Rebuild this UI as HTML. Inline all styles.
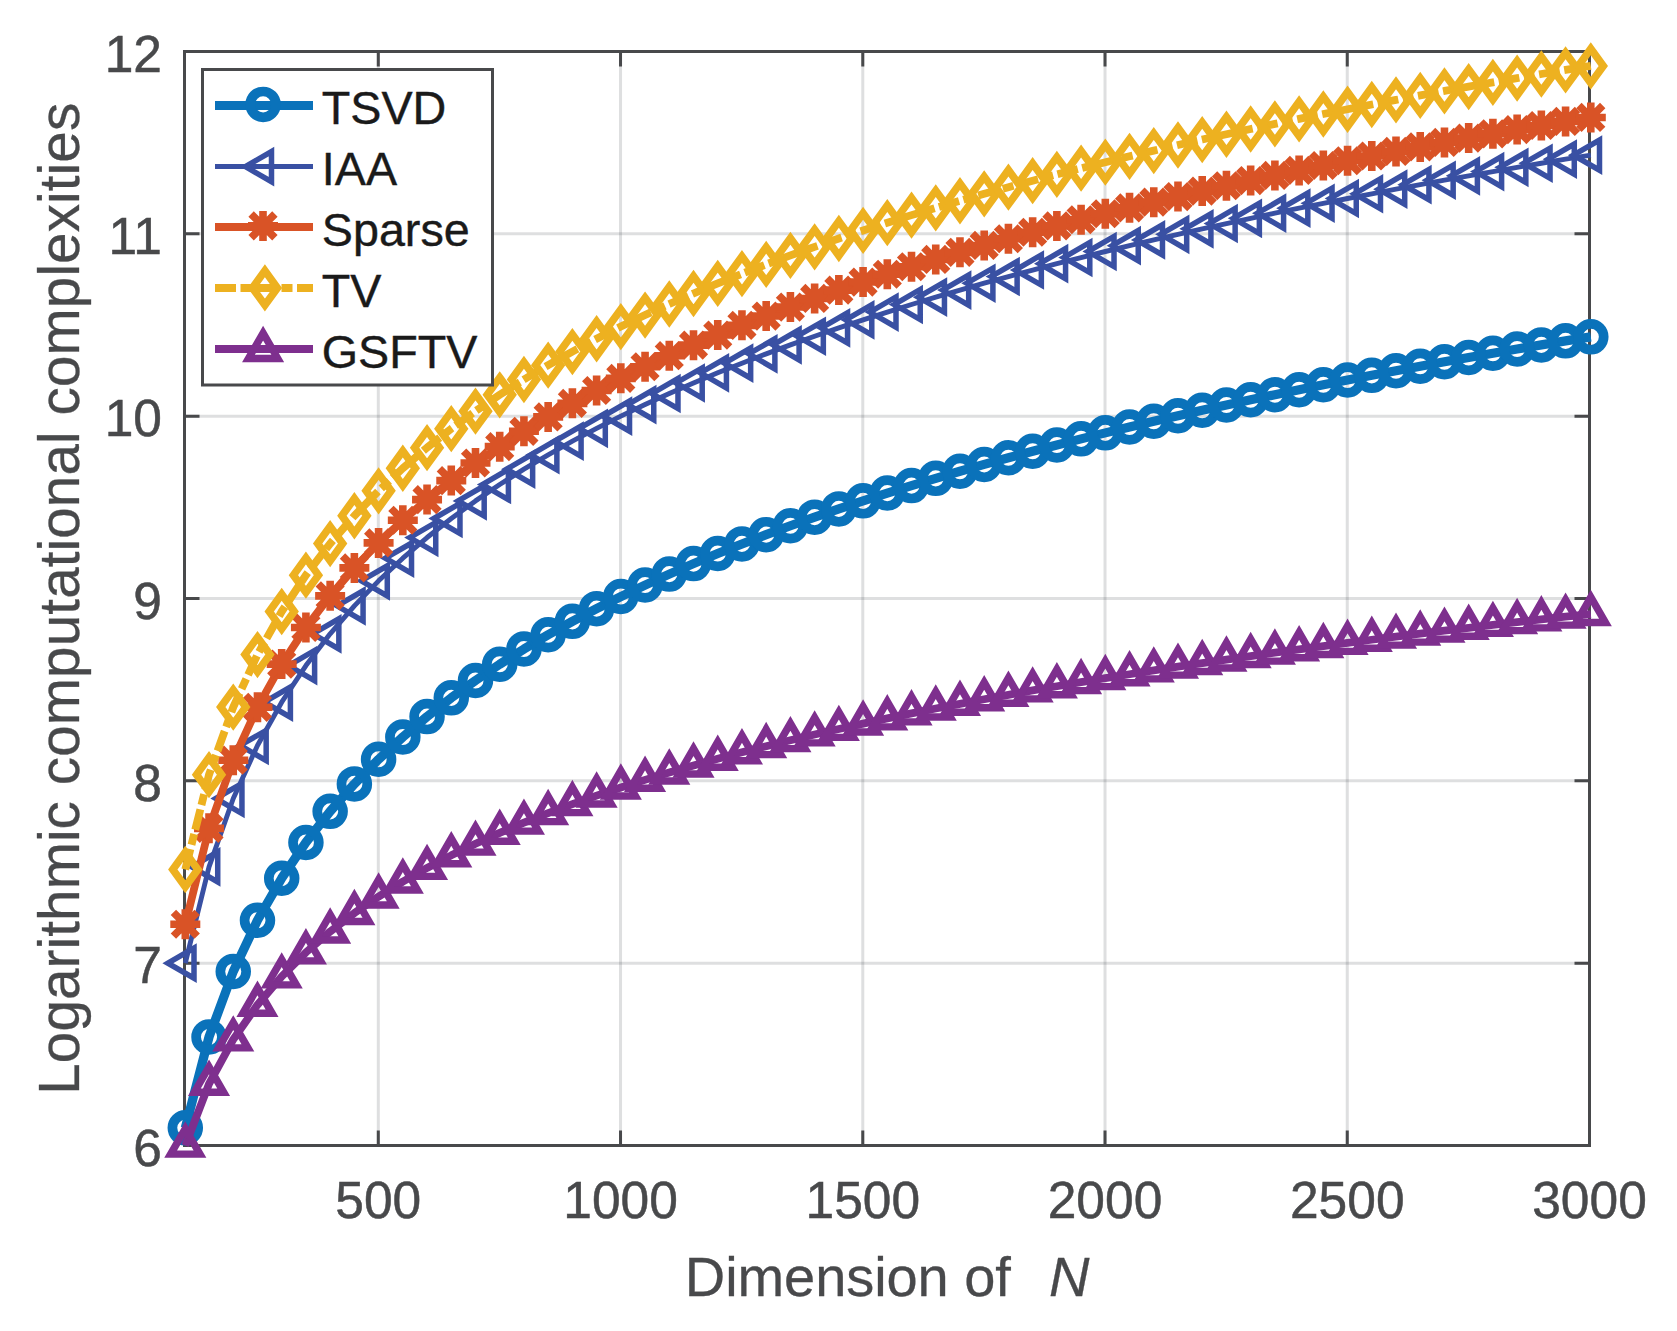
<!DOCTYPE html>
<html><head><meta charset="utf-8"><title>Logarithmic computational complexities</title>
<style>html,body{margin:0;padding:0;background:#fff}svg{display:block}</style></head>
<body>
<svg width="1677" height="1331" viewBox="0 0 1677 1331">
<defs>
<circle id="m-tsvd" cx="0" cy="0" r="12.9" fill="none" stroke="#0a72ba" stroke-width="9.7"/>
<polygon id="m-iaa" points="-17.4,0 8.7,-15.07 8.7,15.07" fill="none" stroke="#3950a3" stroke-width="5.5" stroke-linejoin="miter" stroke-miterlimit="10"/>
<path id="m-sparse" d="M-15 0H15M0 -15V15M-11.9 -11.9L11.9 11.9M-11.9 11.9L11.9 -11.9" fill="none" stroke="#d95326" stroke-width="7.6" stroke-linecap="butt"/>
<polygon id="m-tv" points="0,-17.2 12.5,0 0,17.2 -12.5,0" fill="none" stroke="#edb120" stroke-width="7.6" stroke-linejoin="miter" stroke-miterlimit="10"/>
<polygon id="m-gsftv" points="0,-16.9 14.64,8.45 -14.64,8.45" fill="none" stroke="#7e2f8e" stroke-width="7.4" stroke-linejoin="miter" stroke-miterlimit="10"/>
</defs>
<rect x="0" y="0" width="1677" height="1331" fill="#fff"/>
<path d="M378.29 51.5V1145.5M620.53 51.5V1145.5M862.78 51.5V1145.5M1105.02 51.5V1145.5M1347.26 51.5V1145.5" fill="none" stroke="#1f2226" stroke-opacity="0.145" stroke-width="3"/>
<path d="M184.5 963.17H1589.5M184.5 780.83H1589.5M184.5 598.5H1589.5M184.5 416.17H1589.5M184.5 233.83H1589.5" fill="none" stroke="#1f2226" stroke-opacity="0.145" stroke-width="3"/>
<path d="M378.29 1145.5V1130.5M378.29 51.5V66.5M620.53 1145.5V1130.5M620.53 51.5V66.5M862.78 1145.5V1130.5M862.78 51.5V66.5M1105.02 1145.5V1130.5M1105.02 51.5V66.5M1347.26 1145.5V1130.5M1347.26 51.5V66.5M1589.5 1145.5V1130.5M1589.5 51.5V66.5M184.5 1145.5H199.5M1589.5 1145.5H1574.5M184.5 963.17H199.5M1589.5 963.17H1574.5M184.5 780.83H199.5M1589.5 780.83H1574.5M184.5 598.5H199.5M1589.5 598.5H1574.5M184.5 416.17H199.5M1589.5 416.17H1574.5M184.5 233.83H199.5M1589.5 233.83H1574.5M184.5 51.5H199.5M1589.5 51.5H1574.5" fill="none" stroke="#48494b" stroke-width="3"/>
<rect x="184.5" y="51.5" width="1405" height="1094" fill="none" stroke="#48494b" stroke-width="3"/>
<path d="M185.3 1127.83L209.02 1036.97L233.25 971.51L257.47 920.28L281.7 878.18L305.92 842.43L330.14 811.37L354.37 783.91L378.59 759.3L402.82 737L427.04 716.62L451.27 697.85L475.49 680.45L499.71 664.24L523.94 649.07L548.16 634.81L572.39 621.36L596.61 608.63L620.83 596.54L645.06 585.05L669.28 574.08L693.51 563.6L717.73 553.56L741.96 543.92L766.18 534.66L790.4 525.75L814.63 517.17L838.85 508.88L863.08 500.87L887.3 493.12L911.52 485.62L935.75 478.35L959.97 471.29L984.2 464.43L1008.42 457.77L1032.64 451.29L1056.87 444.99L1081.09 438.84L1105.32 432.85L1129.54 427.01L1153.77 421.31L1177.99 415.74L1202.21 410.3L1226.44 404.98L1250.66 399.78L1274.89 394.69L1299.11 389.7L1323.33 384.82L1347.56 380.04L1371.78 375.35L1396.01 370.75L1420.23 366.24L1444.46 361.81L1468.68 357.47L1492.9 353.2L1517.13 349.01L1541.35 344.89L1565.58 340.84L1590.8 336.86" fill="none" stroke="#0a72ba" stroke-width="9.2" stroke-linejoin="round"/>
<g><use href="#m-tsvd" x="185.3" y="1127.83"/><use href="#m-tsvd" x="209.02" y="1036.97"/><use href="#m-tsvd" x="233.25" y="971.51"/><use href="#m-tsvd" x="257.47" y="920.28"/><use href="#m-tsvd" x="281.7" y="878.18"/><use href="#m-tsvd" x="305.92" y="842.43"/><use href="#m-tsvd" x="330.14" y="811.37"/><use href="#m-tsvd" x="354.37" y="783.91"/><use href="#m-tsvd" x="378.59" y="759.3"/><use href="#m-tsvd" x="402.82" y="737"/><use href="#m-tsvd" x="427.04" y="716.62"/><use href="#m-tsvd" x="451.27" y="697.85"/><use href="#m-tsvd" x="475.49" y="680.45"/><use href="#m-tsvd" x="499.71" y="664.24"/><use href="#m-tsvd" x="523.94" y="649.07"/><use href="#m-tsvd" x="548.16" y="634.81"/><use href="#m-tsvd" x="572.39" y="621.36"/><use href="#m-tsvd" x="596.61" y="608.63"/><use href="#m-tsvd" x="620.83" y="596.54"/><use href="#m-tsvd" x="645.06" y="585.05"/><use href="#m-tsvd" x="669.28" y="574.08"/><use href="#m-tsvd" x="693.51" y="563.6"/><use href="#m-tsvd" x="717.73" y="553.56"/><use href="#m-tsvd" x="741.96" y="543.92"/><use href="#m-tsvd" x="766.18" y="534.66"/><use href="#m-tsvd" x="790.4" y="525.75"/><use href="#m-tsvd" x="814.63" y="517.17"/><use href="#m-tsvd" x="838.85" y="508.88"/><use href="#m-tsvd" x="863.08" y="500.87"/><use href="#m-tsvd" x="887.3" y="493.12"/><use href="#m-tsvd" x="911.52" y="485.62"/><use href="#m-tsvd" x="935.75" y="478.35"/><use href="#m-tsvd" x="959.97" y="471.29"/><use href="#m-tsvd" x="984.2" y="464.43"/><use href="#m-tsvd" x="1008.42" y="457.77"/><use href="#m-tsvd" x="1032.64" y="451.29"/><use href="#m-tsvd" x="1056.87" y="444.99"/><use href="#m-tsvd" x="1081.09" y="438.84"/><use href="#m-tsvd" x="1105.32" y="432.85"/><use href="#m-tsvd" x="1129.54" y="427.01"/><use href="#m-tsvd" x="1153.77" y="421.31"/><use href="#m-tsvd" x="1177.99" y="415.74"/><use href="#m-tsvd" x="1202.21" y="410.3"/><use href="#m-tsvd" x="1226.44" y="404.98"/><use href="#m-tsvd" x="1250.66" y="399.78"/><use href="#m-tsvd" x="1274.89" y="394.69"/><use href="#m-tsvd" x="1299.11" y="389.7"/><use href="#m-tsvd" x="1323.33" y="384.82"/><use href="#m-tsvd" x="1347.56" y="380.04"/><use href="#m-tsvd" x="1371.78" y="375.35"/><use href="#m-tsvd" x="1396.01" y="370.75"/><use href="#m-tsvd" x="1420.23" y="366.24"/><use href="#m-tsvd" x="1444.46" y="361.81"/><use href="#m-tsvd" x="1468.68" y="357.47"/><use href="#m-tsvd" x="1492.9" y="353.2"/><use href="#m-tsvd" x="1517.13" y="349.01"/><use href="#m-tsvd" x="1541.35" y="344.89"/><use href="#m-tsvd" x="1565.58" y="340.84"/><use href="#m-tsvd" x="1590.8" y="336.86"/></g>
<path d="M185.3 963.17L209.02 866.84L233.25 798.5L257.47 745.49L281.7 702.18L305.92 665.56L330.14 633.84L354.37 605.86L378.59 580.83L402.82 558.19L427.04 537.52L451.27 518.5L475.49 500.9L499.71 484.51L523.94 469.18L548.16 454.77L572.39 441.2L596.61 428.35L620.83 416.17L645.06 404.58L669.28 393.52L693.51 382.96L717.73 372.85L741.96 363.16L766.18 353.84L790.4 344.87L814.63 336.23L838.85 327.9L863.08 319.84L887.3 312.06L911.52 304.51L935.75 297.2L959.97 290.11L984.2 283.22L1008.42 276.53L1032.64 270.02L1056.87 263.69L1081.09 257.52L1105.32 251.5L1129.54 245.64L1153.77 239.91L1177.99 234.32L1202.21 228.86L1226.44 223.52L1250.66 218.3L1274.89 213.19L1299.11 208.19L1323.33 203.29L1347.56 198.49L1371.78 193.79L1396.01 189.18L1420.23 184.65L1444.46 180.21L1468.68 175.85L1492.9 171.57L1517.13 167.37L1541.35 163.23L1565.58 159.17L1590.8 155.18" fill="none" stroke="#3950a3" stroke-width="4.9" stroke-linejoin="round"/>
<g><use href="#m-iaa" x="185.3" y="963.17"/><use href="#m-iaa" x="209.02" y="866.84"/><use href="#m-iaa" x="233.25" y="798.5"/><use href="#m-iaa" x="257.47" y="745.49"/><use href="#m-iaa" x="281.7" y="702.18"/><use href="#m-iaa" x="305.92" y="665.56"/><use href="#m-iaa" x="330.14" y="633.84"/><use href="#m-iaa" x="354.37" y="605.86"/><use href="#m-iaa" x="378.59" y="580.83"/><use href="#m-iaa" x="402.82" y="558.19"/><use href="#m-iaa" x="427.04" y="537.52"/><use href="#m-iaa" x="451.27" y="518.5"/><use href="#m-iaa" x="475.49" y="500.9"/><use href="#m-iaa" x="499.71" y="484.51"/><use href="#m-iaa" x="523.94" y="469.18"/><use href="#m-iaa" x="548.16" y="454.77"/><use href="#m-iaa" x="572.39" y="441.2"/><use href="#m-iaa" x="596.61" y="428.35"/><use href="#m-iaa" x="620.83" y="416.17"/><use href="#m-iaa" x="645.06" y="404.58"/><use href="#m-iaa" x="669.28" y="393.52"/><use href="#m-iaa" x="693.51" y="382.96"/><use href="#m-iaa" x="717.73" y="372.85"/><use href="#m-iaa" x="741.96" y="363.16"/><use href="#m-iaa" x="766.18" y="353.84"/><use href="#m-iaa" x="790.4" y="344.87"/><use href="#m-iaa" x="814.63" y="336.23"/><use href="#m-iaa" x="838.85" y="327.9"/><use href="#m-iaa" x="863.08" y="319.84"/><use href="#m-iaa" x="887.3" y="312.06"/><use href="#m-iaa" x="911.52" y="304.51"/><use href="#m-iaa" x="935.75" y="297.2"/><use href="#m-iaa" x="959.97" y="290.11"/><use href="#m-iaa" x="984.2" y="283.22"/><use href="#m-iaa" x="1008.42" y="276.53"/><use href="#m-iaa" x="1032.64" y="270.02"/><use href="#m-iaa" x="1056.87" y="263.69"/><use href="#m-iaa" x="1081.09" y="257.52"/><use href="#m-iaa" x="1105.32" y="251.5"/><use href="#m-iaa" x="1129.54" y="245.64"/><use href="#m-iaa" x="1153.77" y="239.91"/><use href="#m-iaa" x="1177.99" y="234.32"/><use href="#m-iaa" x="1202.21" y="228.86"/><use href="#m-iaa" x="1226.44" y="223.52"/><use href="#m-iaa" x="1250.66" y="218.3"/><use href="#m-iaa" x="1274.89" y="213.19"/><use href="#m-iaa" x="1299.11" y="208.19"/><use href="#m-iaa" x="1323.33" y="203.29"/><use href="#m-iaa" x="1347.56" y="198.49"/><use href="#m-iaa" x="1371.78" y="193.79"/><use href="#m-iaa" x="1396.01" y="189.18"/><use href="#m-iaa" x="1420.23" y="184.65"/><use href="#m-iaa" x="1444.46" y="180.21"/><use href="#m-iaa" x="1468.68" y="175.85"/><use href="#m-iaa" x="1492.9" y="171.57"/><use href="#m-iaa" x="1517.13" y="167.37"/><use href="#m-iaa" x="1541.35" y="163.23"/><use href="#m-iaa" x="1565.58" y="159.17"/><use href="#m-iaa" x="1590.8" y="155.18"/></g>
<path d="M185.3 924.28L209.02 828.35L233.25 760.2L257.47 707.31L281.7 664.08L305.92 627.51L330.14 595.83L354.37 567.88L378.59 542.88L402.82 520.26L427.04 499.61L451.27 480.61L475.49 463.02L499.71 446.64L523.94 431.32L548.16 416.92L572.39 403.35L596.61 390.52L620.83 378.34L645.06 366.75L669.28 355.71L693.51 345.15L717.73 335.04L741.96 325.35L766.18 316.04L790.4 307.07L814.63 298.44L838.85 290.11L863.08 282.05L887.3 274.27L911.52 266.73L935.75 259.42L959.97 252.33L984.2 245.45L1008.42 238.76L1032.64 232.25L1056.87 225.91L1081.09 219.75L1105.32 213.73L1129.54 207.87L1153.77 202.14L1177.99 196.56L1202.21 191.1L1226.44 185.76L1250.66 180.54L1274.89 175.43L1299.11 170.43L1323.33 165.53L1347.56 160.73L1371.78 156.03L1396.01 151.42L1420.23 146.9L1444.46 142.46L1468.68 138.1L1492.9 133.82L1517.13 129.61L1541.35 125.48L1565.58 121.42L1590.8 117.43" fill="none" stroke="#d95326" stroke-width="7.8" stroke-linejoin="round"/>
<g><use href="#m-sparse" x="185.3" y="924.28"/><use href="#m-sparse" x="209.02" y="828.35"/><use href="#m-sparse" x="233.25" y="760.2"/><use href="#m-sparse" x="257.47" y="707.31"/><use href="#m-sparse" x="281.7" y="664.08"/><use href="#m-sparse" x="305.92" y="627.51"/><use href="#m-sparse" x="330.14" y="595.83"/><use href="#m-sparse" x="354.37" y="567.88"/><use href="#m-sparse" x="378.59" y="542.88"/><use href="#m-sparse" x="402.82" y="520.26"/><use href="#m-sparse" x="427.04" y="499.61"/><use href="#m-sparse" x="451.27" y="480.61"/><use href="#m-sparse" x="475.49" y="463.02"/><use href="#m-sparse" x="499.71" y="446.64"/><use href="#m-sparse" x="523.94" y="431.32"/><use href="#m-sparse" x="548.16" y="416.92"/><use href="#m-sparse" x="572.39" y="403.35"/><use href="#m-sparse" x="596.61" y="390.52"/><use href="#m-sparse" x="620.83" y="378.34"/><use href="#m-sparse" x="645.06" y="366.75"/><use href="#m-sparse" x="669.28" y="355.71"/><use href="#m-sparse" x="693.51" y="345.15"/><use href="#m-sparse" x="717.73" y="335.04"/><use href="#m-sparse" x="741.96" y="325.35"/><use href="#m-sparse" x="766.18" y="316.04"/><use href="#m-sparse" x="790.4" y="307.07"/><use href="#m-sparse" x="814.63" y="298.44"/><use href="#m-sparse" x="838.85" y="290.11"/><use href="#m-sparse" x="863.08" y="282.05"/><use href="#m-sparse" x="887.3" y="274.27"/><use href="#m-sparse" x="911.52" y="266.73"/><use href="#m-sparse" x="935.75" y="259.42"/><use href="#m-sparse" x="959.97" y="252.33"/><use href="#m-sparse" x="984.2" y="245.45"/><use href="#m-sparse" x="1008.42" y="238.76"/><use href="#m-sparse" x="1032.64" y="232.25"/><use href="#m-sparse" x="1056.87" y="225.91"/><use href="#m-sparse" x="1081.09" y="219.75"/><use href="#m-sparse" x="1105.32" y="213.73"/><use href="#m-sparse" x="1129.54" y="207.87"/><use href="#m-sparse" x="1153.77" y="202.14"/><use href="#m-sparse" x="1177.99" y="196.56"/><use href="#m-sparse" x="1202.21" y="191.1"/><use href="#m-sparse" x="1226.44" y="185.76"/><use href="#m-sparse" x="1250.66" y="180.54"/><use href="#m-sparse" x="1274.89" y="175.43"/><use href="#m-sparse" x="1299.11" y="170.43"/><use href="#m-sparse" x="1323.33" y="165.53"/><use href="#m-sparse" x="1347.56" y="160.73"/><use href="#m-sparse" x="1371.78" y="156.03"/><use href="#m-sparse" x="1396.01" y="151.42"/><use href="#m-sparse" x="1420.23" y="146.9"/><use href="#m-sparse" x="1444.46" y="142.46"/><use href="#m-sparse" x="1468.68" y="138.1"/><use href="#m-sparse" x="1492.9" y="133.82"/><use href="#m-sparse" x="1517.13" y="129.61"/><use href="#m-sparse" x="1541.35" y="125.48"/><use href="#m-sparse" x="1565.58" y="121.42"/><use href="#m-sparse" x="1590.8" y="117.43"/></g>
<path d="M185.3 869.47L209.02 774.66L233.25 707.08L257.47 654.54L281.7 611.53L305.92 575.14L330.14 543.58L354.37 515.73L378.59 490.81L402.82 468.25L427.04 447.65L451.27 428.7L475.49 411.14L499.71 394.8L523.94 379.51L548.16 365.14L572.39 351.59L596.61 338.77L620.83 326.61L645.06 315.05L669.28 304.02L693.51 293.47L717.73 283.38L741.96 273.7L766.18 264.4L790.4 255.44L814.63 246.82L838.85 238.49L863.08 230.45L887.3 222.67L911.52 215.14L935.75 207.84L959.97 200.75L984.2 193.87L1008.42 187.19L1032.64 180.69L1056.87 174.36L1081.09 168.2L1105.32 162.19L1129.54 156.33L1153.77 150.61L1177.99 145.02L1202.21 139.57L1226.44 134.23L1250.66 129.02L1274.89 123.91L1299.11 118.91L1323.33 114.02L1347.56 109.22L1371.78 104.52L1396.01 99.91L1420.23 95.39L1444.46 90.96L1468.68 86.6L1492.9 82.32L1517.13 78.12L1541.35 73.99L1565.58 69.93L1590.8 65.94" fill="none" stroke="#edb120" stroke-width="7.8" stroke-linejoin="round" stroke-dasharray="21 4.5 11 4.5"/>
<g><use href="#m-tv" x="185.3" y="869.47"/><use href="#m-tv" x="209.02" y="774.66"/><use href="#m-tv" x="233.25" y="707.08"/><use href="#m-tv" x="257.47" y="654.54"/><use href="#m-tv" x="281.7" y="611.53"/><use href="#m-tv" x="305.92" y="575.14"/><use href="#m-tv" x="330.14" y="543.58"/><use href="#m-tv" x="354.37" y="515.73"/><use href="#m-tv" x="378.59" y="490.81"/><use href="#m-tv" x="402.82" y="468.25"/><use href="#m-tv" x="427.04" y="447.65"/><use href="#m-tv" x="451.27" y="428.7"/><use href="#m-tv" x="475.49" y="411.14"/><use href="#m-tv" x="499.71" y="394.8"/><use href="#m-tv" x="523.94" y="379.51"/><use href="#m-tv" x="548.16" y="365.14"/><use href="#m-tv" x="572.39" y="351.59"/><use href="#m-tv" x="596.61" y="338.77"/><use href="#m-tv" x="620.83" y="326.61"/><use href="#m-tv" x="645.06" y="315.05"/><use href="#m-tv" x="669.28" y="304.02"/><use href="#m-tv" x="693.51" y="293.47"/><use href="#m-tv" x="717.73" y="283.38"/><use href="#m-tv" x="741.96" y="273.7"/><use href="#m-tv" x="766.18" y="264.4"/><use href="#m-tv" x="790.4" y="255.44"/><use href="#m-tv" x="814.63" y="246.82"/><use href="#m-tv" x="838.85" y="238.49"/><use href="#m-tv" x="863.08" y="230.45"/><use href="#m-tv" x="887.3" y="222.67"/><use href="#m-tv" x="911.52" y="215.14"/><use href="#m-tv" x="935.75" y="207.84"/><use href="#m-tv" x="959.97" y="200.75"/><use href="#m-tv" x="984.2" y="193.87"/><use href="#m-tv" x="1008.42" y="187.19"/><use href="#m-tv" x="1032.64" y="180.69"/><use href="#m-tv" x="1056.87" y="174.36"/><use href="#m-tv" x="1081.09" y="168.2"/><use href="#m-tv" x="1105.32" y="162.19"/><use href="#m-tv" x="1129.54" y="156.33"/><use href="#m-tv" x="1153.77" y="150.61"/><use href="#m-tv" x="1177.99" y="145.02"/><use href="#m-tv" x="1202.21" y="139.57"/><use href="#m-tv" x="1226.44" y="134.23"/><use href="#m-tv" x="1250.66" y="129.02"/><use href="#m-tv" x="1274.89" y="123.91"/><use href="#m-tv" x="1299.11" y="118.91"/><use href="#m-tv" x="1323.33" y="114.02"/><use href="#m-tv" x="1347.56" y="109.22"/><use href="#m-tv" x="1371.78" y="104.52"/><use href="#m-tv" x="1396.01" y="99.91"/><use href="#m-tv" x="1420.23" y="95.39"/><use href="#m-tv" x="1444.46" y="90.96"/><use href="#m-tv" x="1468.68" y="86.6"/><use href="#m-tv" x="1492.9" y="82.32"/><use href="#m-tv" x="1517.13" y="78.12"/><use href="#m-tv" x="1541.35" y="73.99"/><use href="#m-tv" x="1565.58" y="69.93"/><use href="#m-tv" x="1590.8" y="65.94"/></g>
<path d="M185.3 1145.66L209.02 1083.81L233.25 1039.45L257.47 1004.85L281.7 976.47L305.92 952.41L330.14 931.53L354.37 913.08L378.59 896.56L402.82 881.6L427.04 867.94L451.27 855.36L475.49 843.7L499.71 832.85L523.94 822.69L548.16 813.14L572.39 804.14L596.61 795.62L620.83 787.54L645.06 779.85L669.28 772.51L693.51 765.5L717.73 758.79L741.96 752.35L766.18 746.16L790.4 740.21L814.63 734.47L838.85 728.93L863.08 723.58L887.3 718.4L911.52 713.39L935.75 708.53L959.97 703.82L984.2 699.24L1008.42 694.79L1032.64 690.46L1056.87 686.25L1081.09 682.14L1105.32 678.14L1129.54 674.24L1153.77 670.44L1177.99 666.72L1202.21 663.08L1226.44 659.53L1250.66 656.06L1274.89 652.66L1299.11 649.33L1323.33 646.07L1347.56 642.88L1371.78 639.75L1396.01 636.68L1420.23 633.67L1444.46 630.71L1468.68 627.81L1492.9 624.96L1517.13 622.17L1541.35 619.42L1565.58 616.71L1590.8 614.06" fill="none" stroke="#7e2f8e" stroke-width="7.8" stroke-linejoin="round"/>
<g><use href="#m-gsftv" x="185.3" y="1145.66"/><use href="#m-gsftv" x="209.02" y="1083.81"/><use href="#m-gsftv" x="233.25" y="1039.45"/><use href="#m-gsftv" x="257.47" y="1004.85"/><use href="#m-gsftv" x="281.7" y="976.47"/><use href="#m-gsftv" x="305.92" y="952.41"/><use href="#m-gsftv" x="330.14" y="931.53"/><use href="#m-gsftv" x="354.37" y="913.08"/><use href="#m-gsftv" x="378.59" y="896.56"/><use href="#m-gsftv" x="402.82" y="881.6"/><use href="#m-gsftv" x="427.04" y="867.94"/><use href="#m-gsftv" x="451.27" y="855.36"/><use href="#m-gsftv" x="475.49" y="843.7"/><use href="#m-gsftv" x="499.71" y="832.85"/><use href="#m-gsftv" x="523.94" y="822.69"/><use href="#m-gsftv" x="548.16" y="813.14"/><use href="#m-gsftv" x="572.39" y="804.14"/><use href="#m-gsftv" x="596.61" y="795.62"/><use href="#m-gsftv" x="620.83" y="787.54"/><use href="#m-gsftv" x="645.06" y="779.85"/><use href="#m-gsftv" x="669.28" y="772.51"/><use href="#m-gsftv" x="693.51" y="765.5"/><use href="#m-gsftv" x="717.73" y="758.79"/><use href="#m-gsftv" x="741.96" y="752.35"/><use href="#m-gsftv" x="766.18" y="746.16"/><use href="#m-gsftv" x="790.4" y="740.21"/><use href="#m-gsftv" x="814.63" y="734.47"/><use href="#m-gsftv" x="838.85" y="728.93"/><use href="#m-gsftv" x="863.08" y="723.58"/><use href="#m-gsftv" x="887.3" y="718.4"/><use href="#m-gsftv" x="911.52" y="713.39"/><use href="#m-gsftv" x="935.75" y="708.53"/><use href="#m-gsftv" x="959.97" y="703.82"/><use href="#m-gsftv" x="984.2" y="699.24"/><use href="#m-gsftv" x="1008.42" y="694.79"/><use href="#m-gsftv" x="1032.64" y="690.46"/><use href="#m-gsftv" x="1056.87" y="686.25"/><use href="#m-gsftv" x="1081.09" y="682.14"/><use href="#m-gsftv" x="1105.32" y="678.14"/><use href="#m-gsftv" x="1129.54" y="674.24"/><use href="#m-gsftv" x="1153.77" y="670.44"/><use href="#m-gsftv" x="1177.99" y="666.72"/><use href="#m-gsftv" x="1202.21" y="663.08"/><use href="#m-gsftv" x="1226.44" y="659.53"/><use href="#m-gsftv" x="1250.66" y="656.06"/><use href="#m-gsftv" x="1274.89" y="652.66"/><use href="#m-gsftv" x="1299.11" y="649.33"/><use href="#m-gsftv" x="1323.33" y="646.07"/><use href="#m-gsftv" x="1347.56" y="642.88"/><use href="#m-gsftv" x="1371.78" y="639.75"/><use href="#m-gsftv" x="1396.01" y="636.68"/><use href="#m-gsftv" x="1420.23" y="633.67"/><use href="#m-gsftv" x="1444.46" y="630.71"/><use href="#m-gsftv" x="1468.68" y="627.81"/><use href="#m-gsftv" x="1492.9" y="624.96"/><use href="#m-gsftv" x="1517.13" y="622.17"/><use href="#m-gsftv" x="1541.35" y="619.42"/><use href="#m-gsftv" x="1565.58" y="616.71"/><use href="#m-gsftv" x="1590.8" y="614.06"/></g>
<g font-family="&quot;Liberation Sans&quot;, Arial, sans-serif" font-size="51.5" fill="#48494b" stroke="#48494b" stroke-width="0.5" text-anchor="middle">
<text x="378.29" y="1218.2">500</text>
<text x="620.53" y="1218.2">1000</text>
<text x="862.78" y="1218.2">1500</text>
<text x="1105.02" y="1218.2">2000</text>
<text x="1347.26" y="1218.2">2500</text>
<text x="1589.5" y="1218.2">3000</text>
</g>
<g font-family="&quot;Liberation Sans&quot;, Arial, sans-serif" font-size="51.5" fill="#48494b" stroke="#48494b" stroke-width="0.5" text-anchor="end">
<text x="162" y="1165.5">6</text>
<text x="162" y="983.17">7</text>
<text x="162" y="800.83">8</text>
<text x="162" y="618.5">9</text>
<text x="162" y="436.17">10</text>
<text x="162" y="253.83">11</text>
<text x="162" y="71.5">12</text>
</g>
<text font-family="&quot;Liberation Sans&quot;, Arial, sans-serif" font-size="56" stroke="#48494b" stroke-width="0.3" fill="#48494b" x="684.8" y="1295.5" textLength="326" lengthAdjust="spacing">Dimension of</text>
<text font-family="&quot;Liberation Sans&quot;, Arial, sans-serif" font-size="56" font-style="italic" stroke="#48494b" stroke-width="0.3" fill="#48494b" x="1049" y="1295.5">N</text>
<text font-family="&quot;Liberation Sans&quot;, Arial, sans-serif" font-size="56.6" stroke="#48494b" stroke-width="0.3" fill="#48494b" text-anchor="middle" transform="translate(79.2 598.8) rotate(-90)" textLength="992" lengthAdjust="spacing">Logarithmic computational complexities</text>
<rect x="202.5" y="69.5" width="290" height="315.5" fill="#fff" stroke="#48494b" stroke-width="3"/>
<path d="M215 105.5H313" fill="none" stroke="#0a72ba" stroke-width="9.2"/>
<use href="#m-tsvd" x="263.1" y="104.4"/>
<text font-family="&quot;Liberation Sans&quot;, Arial, sans-serif" font-size="46.7" fill="#1a1a1a" stroke="#1a1a1a" stroke-width="0.4" x="321.8" y="124.2">TSVD</text>
<path d="M215 166.5H313" fill="none" stroke="#3950a3" stroke-width="4.9"/>
<use href="#m-iaa" x="262.8" y="166.6"/>
<text font-family="&quot;Liberation Sans&quot;, Arial, sans-serif" font-size="46.7" fill="#1a1a1a" stroke="#1a1a1a" stroke-width="0.4" x="321.8" y="185.2">IAA</text>
<path d="M215 227H313" fill="none" stroke="#d95326" stroke-width="7.8"/>
<use href="#m-sparse" x="263" y="225.9"/>
<text font-family="&quot;Liberation Sans&quot;, Arial, sans-serif" font-size="46.7" fill="#1a1a1a" stroke="#1a1a1a" stroke-width="0.4" x="321.8" y="245.7">Sparse</text>
<path d="M215 288H313" fill="none" stroke="#edb120" stroke-width="7.8" stroke-dasharray="21 4.5 11 4.5"/>
<use href="#m-tv" x="264.9" y="287.9"/>
<text font-family="&quot;Liberation Sans&quot;, Arial, sans-serif" font-size="46.7" fill="#1a1a1a" stroke="#1a1a1a" stroke-width="0.4" x="321.8" y="306.7">TV</text>
<path d="M215 349H313" fill="none" stroke="#7e2f8e" stroke-width="7.8"/>
<use href="#m-gsftv" x="263.1" y="350"/>
<text font-family="&quot;Liberation Sans&quot;, Arial, sans-serif" font-size="46.7" fill="#1a1a1a" stroke="#1a1a1a" stroke-width="0.4" x="321.8" y="367.7">GSFTV</text>
</svg>
</body></html>
